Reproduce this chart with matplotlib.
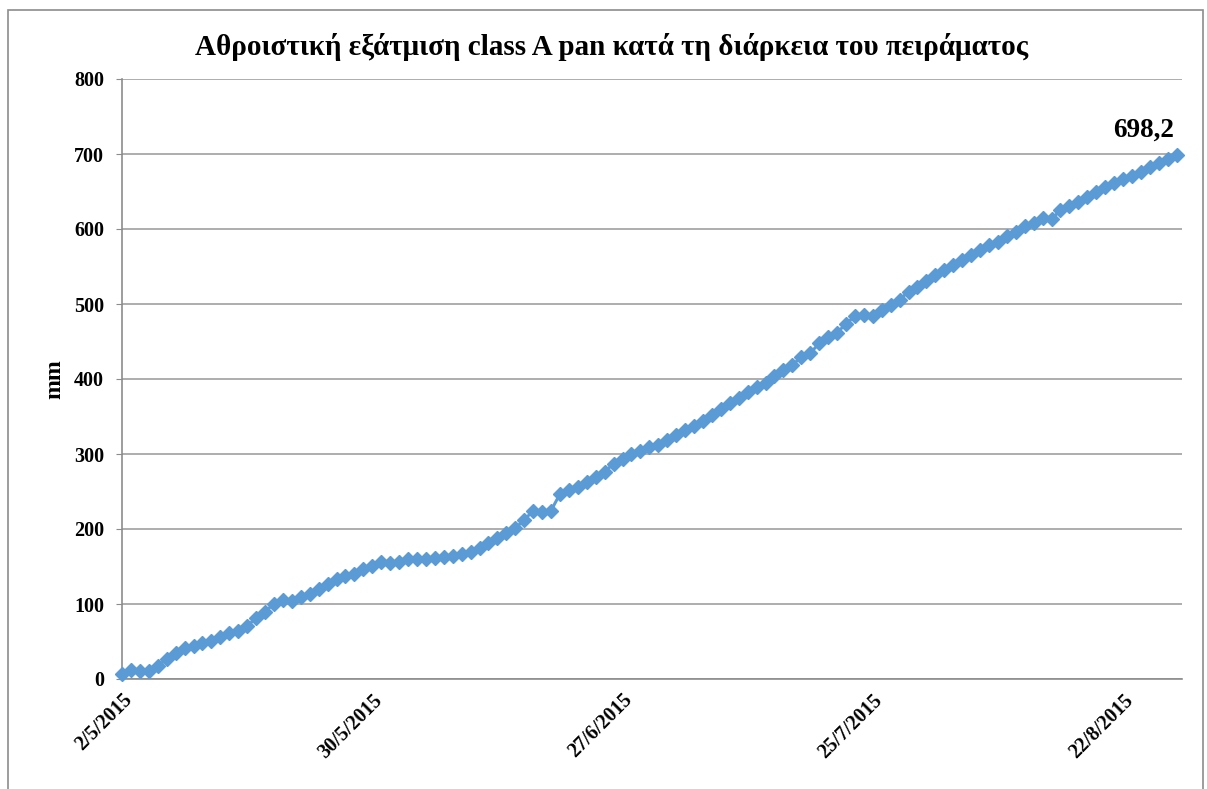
import numpy as np
import matplotlib
matplotlib.use("Agg")
from matplotlib import pyplot as plt
from matplotlib.patches import Rectangle

# cumulative class A pan evaporation (mm), one value per day from 2/5/2015
evap = [7, 12, 11, 11, 17.7, 26.3, 35, 41, 44.4, 48.4,
        51, 55.6, 61, 64.4, 70.7, 81, 90, 100, 106, 104,
        109.7, 113.3, 119.6, 126.7, 133, 137, 140, 147, 151, 156.4,
        155, 156.4, 159.6, 159.6, 159.6, 161, 163, 164, 166.7, 169.7,
        174.3, 181.7, 187.6, 194.3, 201, 212, 224.4, 223, 224.4, 246.7,
        252, 256.4, 263, 269, 276.4, 287, 293, 300, 304.4, 309.7,
        312, 318.7, 325.3, 332, 337.3, 344.4, 352, 359.6, 367.6, 374.3,
        383, 389, 395, 404, 412, 418.7, 429, 434.3, 447.6, 455.6,
        461.8, 473.3, 484, 485.3, 484, 492, 498.7, 506, 516.4, 523,
        531, 538.7, 545.3, 552, 558.7, 565.3, 572, 578.7, 583, 590.7,
        596.4, 603.5, 608.4, 614.2, 613, 625.3, 630.7, 636.4, 643, 649.7,
        655.6, 661.8, 666.2, 670.7, 676.4, 682.2, 687.6, 693, 698.2]
days = np.arange(len(evap))

tick_days = [0, 28, 56, 84, 112]
tick_labels = ["2/5/2015", "30/5/2015", "27/6/2015", "25/7/2015", "22/8/2015"]

plt.rcParams['font.family'] = ['Liberation Serif', 'DejaVu Serif']
plt.rcParams['font.weight'] = 'bold'

fig = plt.figure(figsize=(12.07, 7.89), dpi=100)
ax = fig.add_axes([122/1207, 1-679/789, (1182-122)/1207, (679-79)/789])

# outer chart border
fig.patches.append(Rectangle((8/1207, -0.05), (1203-8)/1207, 1.05-10/789,
                             transform=fig.transFigure, fill=False,
                             edgecolor='#8c8c8c', lw=1.2))

blue = '#5b9bd5'
ax.plot(days, evap, color=blue, lw=2.2, marker='D', markersize=7,
        markeredgecolor=blue, clip_on=False, zorder=3)

ax.set_xlim(0, 118.6)
ax.set_ylim(0, 800)
ax.set_yticks(range(0, 801, 100))
ax.set_xticks(tick_days)
ax.set_xticklabels(tick_labels, rotation=45, ha='right', rotation_mode='anchor',
                   fontsize=14.5, fontweight='bold')
for lab in ax.get_yticklabels():
    lab.set_fontsize(14.5)
    lab.set_fontweight('bold')
ax.tick_params(axis='y', length=4, color='#8c8c8c', pad=9)
ax.tick_params(axis='x', length=0, pad=8)

ax.grid(axis='y', color='#a0a0a0', lw=1.2)
ax.set_axisbelow(True)
for s in ['top', 'right']:
    ax.spines[s].set_visible(False)
for s in ['left', 'bottom']:
    ax.spines[s].set_color('#8c8c8c')
    ax.spines[s].set_linewidth(1.2)

ax.set_ylabel("mm", fontsize=17, fontweight='bold', labelpad=6)
fig.text(612/1207, 1-47/789, "Αθροιστική εξάτμιση class A pan κατά τη διάρκεια του πειράματος",
         ha='center', va='center', fontsize=21, fontweight='bold')

ax.annotate("698,2", (days[-1], evap[-1]), xytext=(-24, 18), textcoords='offset points',
            ha='center', va='center', fontsize=19.5, fontweight='bold')

fig.savefig("out.png", dpi=100)
